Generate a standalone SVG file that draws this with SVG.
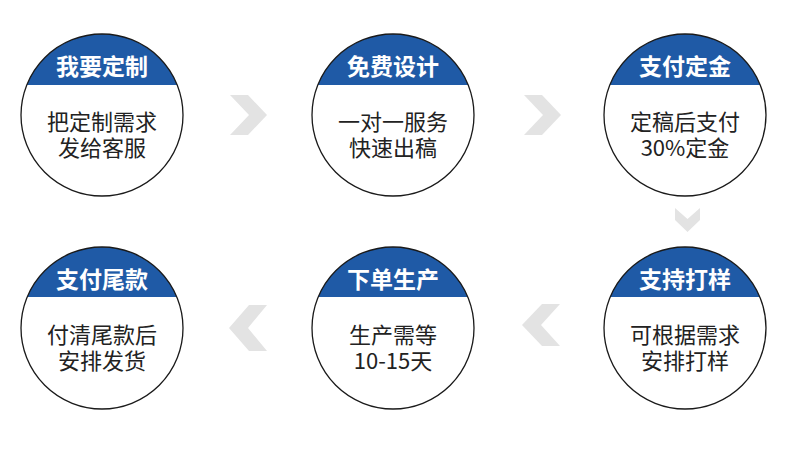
<svg xmlns="http://www.w3.org/2000/svg" width="790" height="449" viewBox="0 0 790 449">
<style>
.ring{fill:none;stroke:#1a1a1a;stroke-width:1.3}
.band{fill:#1f5aa6}
.title{font-family:"Noto Sans CJK SC","Noto Sans",sans-serif;font-size:23px;font-weight:700;fill:#fff;text-anchor:middle}
.body{font-family:"Noto Sans CJK SC","Noto Sans",sans-serif;font-size:22px;font-weight:400;fill:#222;text-anchor:middle}
.chev{fill:#e3e3e3}
</style>
<defs>
<clipPath id="c1"><circle cx="102" cy="115" r="81"/></clipPath>
<clipPath id="c2"><circle cx="393" cy="115" r="81"/></clipPath>
<clipPath id="c3"><circle cx="685" cy="115" r="81"/></clipPath>
<clipPath id="c4"><circle cx="102" cy="328" r="81"/></clipPath>
<clipPath id="c5"><circle cx="393" cy="328" r="81"/></clipPath>
<clipPath id="c6"><circle cx="685" cy="328" r="81"/></clipPath>
</defs>
<rect width="790" height="449" fill="#fff"/>
<g id="connectors">
<polygon class="chev" points="230,95 248,95 267,115 248,135 230,135 249,115"/>
<polygon class="chev" points="524,95 542,95 561,115 542,135 524,135 543,115"/>
<polygon class="chev" points="675,208 687.5,219 700,208 700,220 687.5,232 675,220"/>
<polygon class="chev" points="560,304 542,304 522,325 542,346 560,346 541,325"/>
<polygon class="chev" points="267,305 249,305 229,328 249,351 267,351 248,328"/>
</g>
<g id="node1">
<rect class="band" x="20" y="33" width="164" height="52" clip-path="url(#c1)"/>
<circle class="ring" cx="102" cy="115" r="81"/>
<text class="title" x="102" y="75">我要定制</text>
<text class="body" x="102" y="130">把定制需求</text>
<text class="body" x="102" y="156">发给客服</text>
</g>
<g id="node2">
<rect class="band" x="311" y="33" width="164" height="52" clip-path="url(#c2)"/>
<circle class="ring" cx="393" cy="115" r="81"/>
<text class="title" x="393" y="75">免费设计</text>
<text class="body" x="393" y="130">一对一服务</text>
<text class="body" x="393" y="156">快速出稿</text>
</g>
<g id="node3">
<rect class="band" x="603" y="33" width="164" height="52" clip-path="url(#c3)"/>
<circle class="ring" cx="685" cy="115" r="81"/>
<text class="title" x="685" y="75">支付定金</text>
<text class="body" x="685" y="130">定稿后支付</text>
<text class="body" x="685" y="156">30%定金</text>
</g>
<g id="node4">
<rect class="band" x="603" y="246" width="164" height="51" clip-path="url(#c6)"/>
<circle class="ring" cx="685" cy="328" r="81"/>
<text class="title" x="685" y="288">支持打样</text>
<text class="body" x="685" y="343">可根据需求</text>
<text class="body" x="685" y="369">安排打样</text>
</g>
<g id="node5">
<rect class="band" x="311" y="246" width="164" height="51" clip-path="url(#c5)"/>
<circle class="ring" cx="393" cy="328" r="81"/>
<text class="title" x="393" y="288">下单生产</text>
<text class="body" x="393" y="343">生产需等</text>
<text class="body" x="393" y="369">10-15天</text>
</g>
<g id="node6">
<rect class="band" x="20" y="246" width="164" height="51" clip-path="url(#c4)"/>
<circle class="ring" cx="102" cy="328" r="81"/>
<text class="title" x="102" y="288">支付尾款</text>
<text class="body" x="102" y="343">付清尾款后</text>
<text class="body" x="102" y="369">安排发货</text>
</g>
</svg>
